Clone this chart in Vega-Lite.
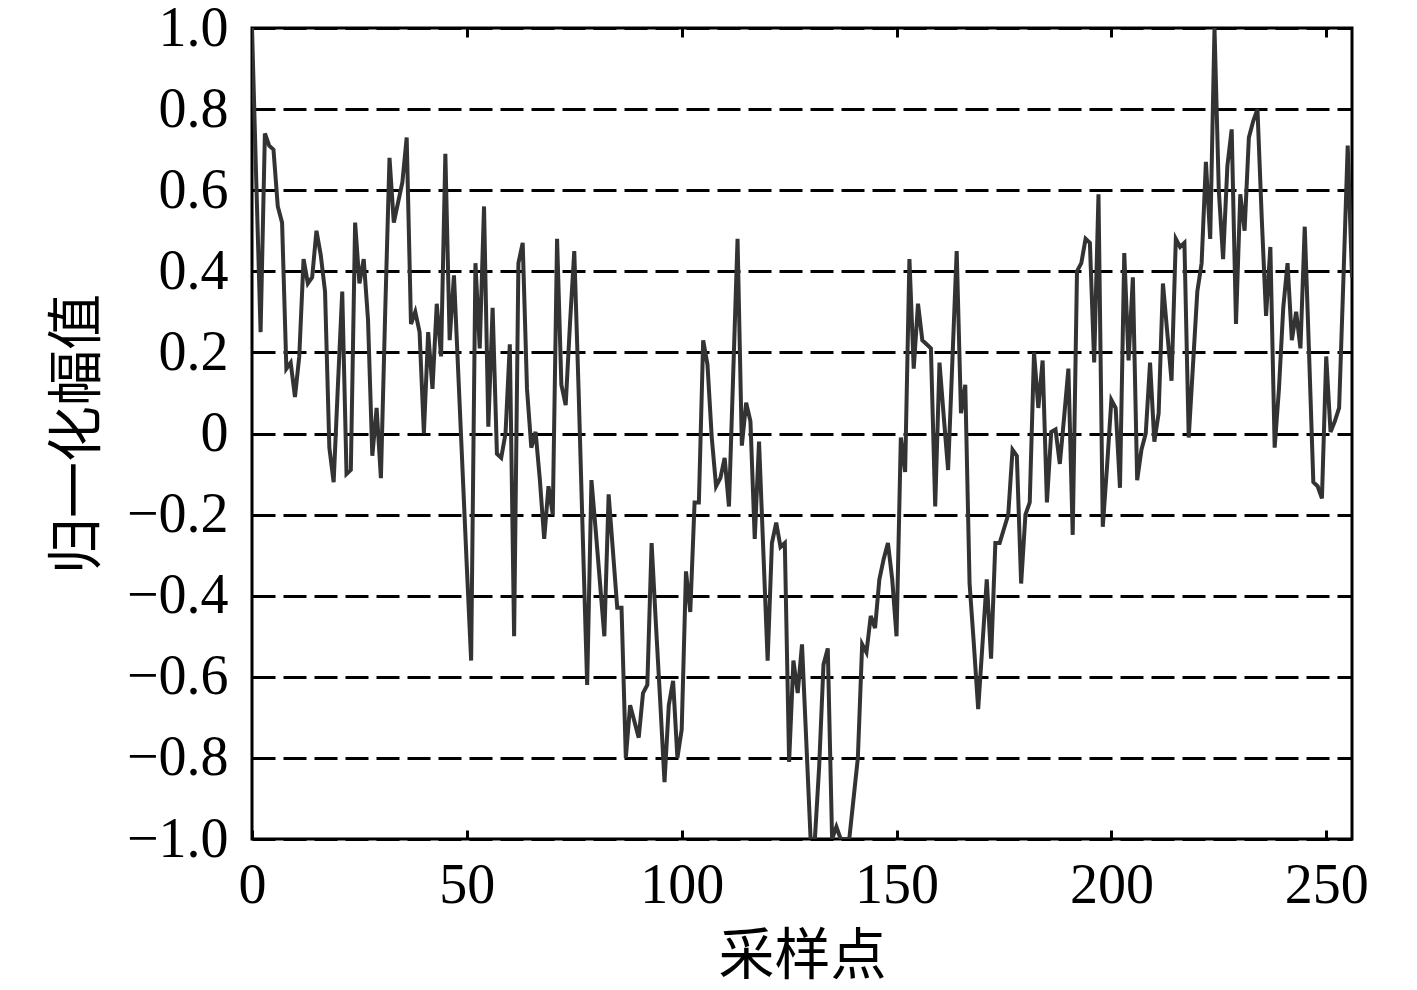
{
  "$schema": "https://vega.github.io/schema/vega-lite/v6.json",
  "width": 1100,
  "height": 811,
  "autosize": {"type": "none"},
  "padding": {"left": 252, "top": 28, "right": 65, "bottom": 151},
  "background": "white",
  "config": {
    "view": {"stroke": "black", "strokeWidth": 3},
    "axis": {
      "labelFont": "Liberation Serif",
      "labelFontSize": 56,
      "labelColor": "black",
      "titleFont": "Noto Sans CJK SC",
      "titleFontSize": 56,
      "titleFontWeight": "normal",
      "titleColor": "black",
      "domain": false,
      "tickColor": "black",
      "tickWidth": 3
    }
  },
  "data": {
    "values": [
      {"n":0,"v":1.0},{"n":1,"v":0.62},{"n":2,"v":0.25},{"n":3,"v":0.74},{"n":4,"v":0.71},{"n":5,"v":0.70},{"n":6,"v":0.56},{"n":7,"v":0.52},{"n":8,"v":0.16},{"n":9,"v":0.175},
      {"n":10,"v":0.09},{"n":11,"v":0.19},{"n":12,"v":0.43},{"n":13,"v":0.37},{"n":14,"v":0.385},{"n":15,"v":0.50},{"n":16,"v":0.44},{"n":17,"v":0.35},{"n":18,"v":-0.035},{"n":19,"v":-0.12},
      {"n":20,"v":0.12},{"n":21,"v":0.35},{"n":22,"v":-0.10},{"n":23,"v":-0.09},{"n":24,"v":0.52},{"n":25,"v":0.37},{"n":26,"v":0.43},{"n":27,"v":0.28},{"n":28,"v":-0.055},{"n":29,"v":0.063},
      {"n":30,"v":-0.11},{"n":31,"v":0.30},{"n":32,"v":0.68},{"n":33,"v":0.52},{"n":34,"v":0.57},{"n":35,"v":0.62},{"n":36,"v":0.73},{"n":37,"v":0.27},{"n":38,"v":0.30},{"n":39,"v":0.25},
      {"n":40,"v":0.0},{"n":41,"v":0.25},{"n":42,"v":0.11},{"n":43,"v":0.32},{"n":44,"v":0.19},{"n":45,"v":0.69},{"n":46,"v":0.23},{"n":47,"v":0.39},{"n":48,"v":0.15},{"n":49,"v":-0.09},
      {"n":50,"v":-0.33},{"n":51,"v":-0.56},{"n":52,"v":0.42},{"n":53,"v":0.21},{"n":54,"v":0.56},{"n":55,"v":0.017},{"n":56,"v":0.31},{"n":57,"v":-0.05},{"n":58,"v":-0.06},{"n":59,"v":0.0},
      {"n":60,"v":0.22},{"n":61,"v":-0.50},{"n":62,"v":0.42},{"n":63,"v":0.47},{"n":64,"v":0.11},{"n":65,"v":-0.035},{"n":66,"v":0.004},{"n":67,"v":-0.115},{"n":68,"v":-0.26},{"n":69,"v":-0.13},
      {"n":70,"v":-0.2},{"n":71,"v":0.48},{"n":72,"v":0.12},{"n":73,"v":0.07},{"n":74,"v":0.27},{"n":75,"v":0.45},{"n":76,"v":0.11},{"n":77,"v":-0.26},{"n":78,"v":-0.62},{"n":79,"v":-0.115},
      {"n":80,"v":-0.24},{"n":81,"v":-0.37},{"n":82,"v":-0.50},{"n":83,"v":-0.15},{"n":84,"v":-0.29},{"n":85,"v":-0.43},{"n":86,"v":-0.43},{"n":87,"v":-0.80},{"n":88,"v":-0.67},{"n":89,"v":-0.71},
      {"n":90,"v":-0.75},{"n":91,"v":-0.64},{"n":92,"v":-0.62},{"n":93,"v":-0.27},{"n":94,"v":-0.47},{"n":95,"v":-0.66},{"n":96,"v":-0.86},{"n":97,"v":-0.67},{"n":98,"v":-0.61},{"n":99,"v":-0.80},
      {"n":100,"v":-0.73},{"n":101,"v":-0.34},{"n":102,"v":-0.44},{"n":103,"v":-0.17},{"n":104,"v":-0.17},{"n":105,"v":0.23},{"n":106,"v":0.17},{"n":107,"v":-0.01},{"n":108,"v":-0.13},{"n":109,"v":-0.11},
      {"n":110,"v":-0.06},{"n":111,"v":-0.18},{"n":112,"v":0.15},{"n":113,"v":0.48},{"n":114,"v":-0.03},{"n":115,"v":0.076},{"n":116,"v":0.03},{"n":117,"v":-0.26},{"n":118,"v":-0.02},{"n":119,"v":-0.29},
      {"n":120,"v":-0.56},{"n":121,"v":-0.27},{"n":122,"v":-0.22},{"n":123,"v":-0.28},{"n":124,"v":-0.27},{"n":125,"v":-0.81},{"n":126,"v":-0.56},{"n":127,"v":-0.64},{"n":128,"v":-0.52},{"n":129,"v":-0.76},
      {"n":130,"v":-1.0},{"n":131,"v":-1.0},{"n":132,"v":-0.82},{"n":133,"v":-0.57},{"n":134,"v":-0.53},{"n":135,"v":-1.0},{"n":136,"v":-0.97},{"n":137,"v":-1.0},{"n":138,"v":-1.0},{"n":139,"v":-1.0},
      {"n":140,"v":-0.9},{"n":141,"v":-0.80},{"n":142,"v":-0.52},{"n":143,"v":-0.54},{"n":144,"v":-0.45},{"n":145,"v":-0.48},{"n":146,"v":-0.36},{"n":147,"v":-0.31},{"n":148,"v":-0.27},{"n":149,"v":-0.36},
      {"n":150,"v":-0.50},{"n":151,"v":-0.01},{"n":152,"v":-0.095},{"n":153,"v":0.43},{"n":154,"v":0.16},{"n":155,"v":0.32},{"n":156,"v":0.23},{"n":157,"v":0.22},{"n":158,"v":0.21},{"n":159,"v":-0.18},
      {"n":160,"v":0.175},{"n":161,"v":0.04},{"n":162,"v":-0.09},{"n":163,"v":0.18},{"n":164,"v":0.45},{"n":165,"v":0.05},{"n":166,"v":0.12},{"n":167,"v":-0.37},{"n":168,"v":-0.52},{"n":169,"v":-0.68},
      {"n":170,"v":-0.52},{"n":171,"v":-0.36},{"n":172,"v":-0.555},{"n":173,"v":-0.27},{"n":174,"v":-0.27},{"n":175,"v":-0.235},{"n":176,"v":-0.2},{"n":177,"v":-0.04},{"n":178,"v":-0.055},{"n":179,"v":-0.37},
      {"n":180,"v":-0.2},{"n":181,"v":-0.17},{"n":182,"v":0.20},{"n":183,"v":0.063},{"n":184,"v":0.18},{"n":185,"v":-0.17},{"n":186,"v":0.004},{"n":187,"v":0.01},{"n":188,"v":-0.075},{"n":189,"v":0.04},
      {"n":190,"v":0.16},{"n":191,"v":-0.25},{"n":192,"v":0.40},{"n":193,"v":0.42},{"n":194,"v":0.48},{"n":195,"v":0.47},{"n":196,"v":0.175},{"n":197,"v":0.59},{"n":198,"v":-0.23},{"n":199,"v":-0.08},
      {"n":200,"v":0.083},{"n":201,"v":0.063},{"n":202,"v":-0.134},{"n":203,"v":0.445},{"n":204,"v":0.18},{"n":205,"v":0.385},{"n":206,"v":-0.115},{"n":207,"v":-0.04},{"n":208,"v":0.0},{"n":209,"v":0.175},
      {"n":210,"v":-0.02},{"n":211,"v":0.05},{"n":212,"v":0.37},{"n":213,"v":0.25},{"n":214,"v":0.13},{"n":215,"v":0.48},{"n":216,"v":0.46},{"n":217,"v":0.47},{"n":218,"v":-0.01},{"n":219,"v":0.17},
      {"n":220,"v":0.35},{"n":221,"v":0.42},{"n":222,"v":0.67},{"n":223,"v":0.48},{"n":224,"v":1.0},{"n":225,"v":0.60},{"n":226,"v":0.43},{"n":227,"v":0.66},{"n":228,"v":0.75},{"n":229,"v":0.27},
      {"n":230,"v":0.59},{"n":231,"v":0.50},{"n":232,"v":0.73},{"n":233,"v":0.77},{"n":234,"v":0.80},{"n":235,"v":0.53},{"n":236,"v":0.29},{"n":237,"v":0.46},{"n":238,"v":-0.035},{"n":239,"v":0.11},
      {"n":240,"v":0.31},{"n":241,"v":0.42},{"n":242,"v":0.23},{"n":243,"v":0.30},{"n":244,"v":0.21},{"n":245,"v":0.51},{"n":246,"v":0.20},{"n":247,"v":-0.12},{"n":248,"v":-0.13},{"n":249,"v":-0.16},
      {"n":250,"v":0.19},{"n":251,"v":0.004},{"n":252,"v":0.03},{"n":253,"v":0.063},{"n":254,"v":0.38},{"n":255,"v":0.71},{"n":256,"v":0.385}
    ]
  },
  "layer": [
    {
      "mark": {"type": "line", "color": "#333333", "strokeWidth": 4, "clip": true},
      "encoding": {
        "x": {
          "field": "n", "type": "quantitative",
          "scale": {"domain": [0, 256], "nice": false, "zero": false},
          "axis": {
            "orient": "bottom", "values": [0, 50, 100, 150, 200, 250],
            "grid": false, "tickSize": -9, "labelPadding": 28, "labelFlush": false,
            "title": "采样点", "titlePadding": 16
          }
        },
        "y": {
          "field": "v", "type": "quantitative",
          "scale": {"domain": [-1, 1], "nice": false, "zero": false},
          "axis": {
            "orient": "left", "values": [-1, -0.8, -0.6, -0.4, -0.2, 0, 0.2, 0.4, 0.6, 0.8, 1],
            "labelExpr": "datum.value == 0 ? '0' : format(datum.value, '.1f')",
            "grid": true, "gridColor": "black", "gridWidth": 3, "gridDash": [23, 8], "gridOpacity": 1,
            "ticks": false, "labelPadding": 24, "labelFlush": false,
            "title": "归一化幅值", "titlePadding": 20
          }
        }
      }
    },
    {
      "mark": {"type": "line", "opacity": 0},
      "encoding": {
        "x": {
          "field": "n", "type": "quantitative",
          "scale": {"domain": [0, 256], "nice": false, "zero": false},
          "axis": {
            "orient": "top", "values": [0, 50, 100, 150, 200, 250],
            "grid": false, "labels": false, "title": null, "tickSize": -9
          }
        },
        "y": {"field": "v", "type": "quantitative"}
      }
    }
  ],
  "resolve": {"axis": {"x": "independent"}}
}
